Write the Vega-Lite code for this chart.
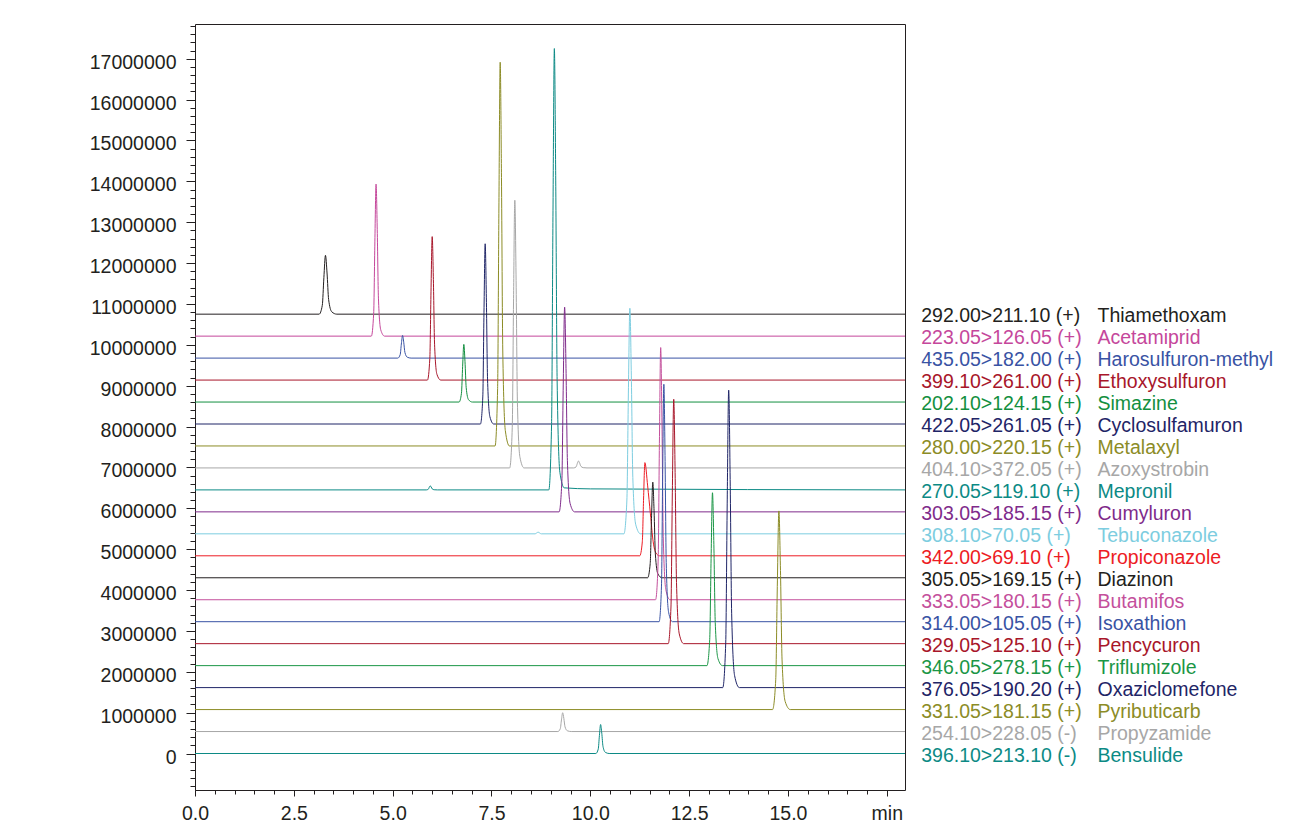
{
"$schema": "https://vega.github.io/schema/vega-lite/v6.json",
"width": 710, "height": 766,
"autosize": "none",
"padding": {"left": 195, "top": 24, "right": 406, "bottom": 42},
"background": "white",
"config": {"view": {"stroke": "#231f20", "strokeWidth": 1}, "font": "Liberation Sans",
  "axis": {"grid": false, "domain": false, "title": null, "tickColor": "#231f20", "labelColor": "#231f20", "labelFontSize": 19.5, "labelFont": "Liberation Sans", "labelOverlap": false, "labelFlush": false, "tickWidth": 1}},
"datasets": {
"tr": [
{"n":"Thiamethoxam","t":0,"y":10750000},{"n":"Thiamethoxam","t":3.14,"y":10750000},{"n":"Thiamethoxam","t":3.22,"y":10966000},{"n":"Thiamethoxam","t":3.26,"y":11642800},{"n":"Thiamethoxam","t":3.30,"y":12190000},{"n":"Thiamethoxam","t":3.34,"y":11758000},{"n":"Thiamethoxam","t":3.38,"y":11110000},{"n":"Thiamethoxam","t":3.46,"y":10807600},{"n":"Thiamethoxam","t":3.588,"y":10750000},{"n":"Thiamethoxam","t":17.96,"y":10750000},
{"n":"Acetamiprid","t":0,"y":10212500},{"n":"Acetamiprid","t":4.46,"y":10212500},{"n":"Acetamiprid","t":4.52,"y":10770500},{"n":"Acetamiprid","t":4.55,"y":12518900},{"n":"Acetamiprid","t":4.58,"y":13932500},{"n":"Acetamiprid","t":4.61,"y":12816500},{"n":"Acetamiprid","t":4.64,"y":11142500},{"n":"Acetamiprid","t":4.70,"y":10361300},{"n":"Acetamiprid","t":4.796,"y":10212500},{"n":"Acetamiprid","t":17.96,"y":10212500},
{"n":"Harosulfuron-methyl","t":0,"y":9675000},{"n":"Harosulfuron-methyl","t":5.13,"y":9675000},{"n":"Harosulfuron-methyl","t":5.19,"y":9758250},{"n":"Harosulfuron-methyl","t":5.22,"y":10019100},{"n":"Harosulfuron-methyl","t":5.25,"y":10230000},{"n":"Harosulfuron-methyl","t":5.28,"y":10063500},{"n":"Harosulfuron-methyl","t":5.31,"y":9813750},{"n":"Harosulfuron-methyl","t":5.37,"y":9697200},{"n":"Harosulfuron-methyl","t":5.466,"y":9675000},{"n":"Harosulfuron-methyl","t":17.96,"y":9675000},
{"n":"Ethoxysulfuron","t":0,"y":9137500},{"n":"Ethoxysulfuron","t":5.88,"y":9137500},{"n":"Ethoxysulfuron","t":5.94,"y":9664000},{"n":"Ethoxysulfuron","t":5.97,"y":11313700},{"n":"Ethoxysulfuron","t":6.00,"y":12647500},{"n":"Ethoxysulfuron","t":6.03,"y":11594500},{"n":"Ethoxysulfuron","t":6.06,"y":10015000},{"n":"Ethoxysulfuron","t":6.12,"y":9277900},{"n":"Ethoxysulfuron","t":6.216,"y":9137500},{"n":"Ethoxysulfuron","t":17.96,"y":9137500},
{"n":"Simazine","t":0,"y":8600000},{"n":"Simazine","t":6.68,"y":8600000},{"n":"Simazine","t":6.74,"y":8811500},{"n":"Simazine","t":6.77,"y":9474200},{"n":"Simazine","t":6.80,"y":10010000},{"n":"Simazine","t":6.83,"y":9587000},{"n":"Simazine","t":6.86,"y":8952500},{"n":"Simazine","t":6.92,"y":8656400},{"n":"Simazine","t":7.016,"y":8600000},{"n":"Simazine","t":17.96,"y":8600000},
{"n":"Cyclosulfamuron","t":0,"y":8062500},{"n":"Cyclosulfamuron","t":7.22,"y":8062500},{"n":"Cyclosulfamuron","t":7.28,"y":8724000},{"n":"Cyclosulfamuron","t":7.31,"y":10796700},{"n":"Cyclosulfamuron","t":7.34,"y":12472500},{"n":"Cyclosulfamuron","t":7.37,"y":11149500},{"n":"Cyclosulfamuron","t":7.40,"y":9165000},{"n":"Cyclosulfamuron","t":7.46,"y":8238900},{"n":"Cyclosulfamuron","t":7.556,"y":8062500},{"n":"Cyclosulfamuron","t":17.96,"y":8062500},
{"n":"Metalaxyl","t":0,"y":7525000},{"n":"Metalaxyl","t":7.59,"y":7525000},{"n":"Metalaxyl","t":7.655,"y":8933500},{"n":"Metalaxyl","t":7.6875,"y":13346800},{"n":"Metalaxyl","t":7.72,"y":16915000},{"n":"Metalaxyl","t":7.7525,"y":14098000},{"n":"Metalaxyl","t":7.785,"y":9872500},{"n":"Metalaxyl","t":7.85,"y":7900600},{"n":"Metalaxyl","t":7.954,"y":7525000},{"n":"Metalaxyl","t":17.96,"y":7525000},
{"n":"Azoxystrobin","t":0,"y":6987500},{"n":"Azoxystrobin","t":7.96,"y":6987500},{"n":"Azoxystrobin","t":8.025,"y":7970000},{"n":"Azoxystrobin","t":8.0575,"y":11048500},{"n":"Azoxystrobin","t":8.09,"y":13537500},{"n":"Azoxystrobin","t":8.1225,"y":11572500},{"n":"Azoxystrobin","t":8.155,"y":8625000},{"n":"Azoxystrobin","t":8.22,"y":7249500},{"n":"Azoxystrobin","t":8.324,"y":6987500},{"n":"Azoxystrobin","t":9.58,"y":6987500},{"n":"Azoxystrobin","t":9.64,"y":7013000},{"n":"Azoxystrobin","t":9.67,"y":7092900},{"n":"Azoxystrobin","t":9.70,"y":7157500},{"n":"Azoxystrobin","t":9.73,"y":7106500},{"n":"Azoxystrobin","t":9.76,"y":7030000},{"n":"Azoxystrobin","t":9.82,"y":6994300},{"n":"Azoxystrobin","t":9.916,"y":6987500},{"n":"Azoxystrobin","t":17.96,"y":6987500},
{"n":"Mepronil","t":0,"y":6450000},{"n":"Mepronil","t":5.85,"y":6450000},{"n":"Mepronil","t":5.90,"y":6465000},{"n":"Mepronil","t":5.925,"y":6512000},{"n":"Mepronil","t":5.95,"y":6550000},{"n":"Mepronil","t":5.975,"y":6520000},{"n":"Mepronil","t":6.00,"y":6475000},{"n":"Mepronil","t":6.05,"y":6454000},{"n":"Mepronil","t":6.13,"y":6450000},{"n":"Mepronil","t":8.95,"y":6450000},{"n":"Mepronil","t":9.02,"y":8070000},{"n":"Mepronil","t":9.055,"y":13146000},{"n":"Mepronil","t":9.09,"y":17250000},{"n":"Mepronil","t":9.125,"y":14010000},{"n":"Mepronil","t":9.16,"y":9150000},{"n":"Mepronil","t":9.23,"y":6882000},{"n":"Mepronil","t":9.342,"y":6500000},{"n":"Mepronil","t":10.0,"y":6475000},{"n":"Mepronil","t":17.96,"y":6450000},
{"n":"Cumyluron","t":0,"y":5912500},{"n":"Cumyluron","t":9.21,"y":5912500},{"n":"Cumyluron","t":9.28,"y":6664000},{"n":"Cumyluron","t":9.315,"y":9018700},{"n":"Cumyluron","t":9.35,"y":10922500},{"n":"Cumyluron","t":9.385,"y":9419500},{"n":"Cumyluron","t":9.42,"y":7165000},{"n":"Cumyluron","t":9.49,"y":6112900},{"n":"Cumyluron","t":9.602,"y":5912500},{"n":"Cumyluron","t":17.96,"y":5912500},
{"n":"Tebuconazole","t":0,"y":5375000},{"n":"Tebuconazole","t":8.60,"y":5375000},{"n":"Tebuconazole","t":8.68,"y":5415000},{"n":"Tebuconazole","t":8.76,"y":5375000},{"n":"Tebuconazole","t":10.85,"y":5375000},{"n":"Tebuconazole","t":10.925,"y":6203000},{"n":"Tebuconazole","t":10.9625,"y":8797400},{"n":"Tebuconazole","t":11.00,"y":10895000},{"n":"Tebuconazole","t":11.0375,"y":9239000},{"n":"Tebuconazole","t":11.075,"y":6755000},{"n":"Tebuconazole","t":11.15,"y":5595800},{"n":"Tebuconazole","t":11.27,"y":5375000},{"n":"Tebuconazole","t":17.96,"y":5375000},
{"n":"Propiconazole","t":0,"y":4837500},{"n":"Propiconazole","t":11.25,"y":4837500},{"n":"Propiconazole","t":11.315,"y":5179500},{"n":"Propiconazole","t":11.3475,"y":6251100},{"n":"Propiconazole","t":11.38,"y":7117500},{"n":"Propiconazole","t":11.45,"y":6547500},{"n":"Propiconazole","t":11.52,"y":5863500},{"n":"Propiconazole","t":11.59,"y":5179500},{"n":"Propiconazole","t":11.66,"y":4905900},{"n":"Propiconazole","t":11.75,"y":4837500},{"n":"Propiconazole","t":17.96,"y":4837500},
{"n":"Diazinon","t":0,"y":4300000},{"n":"Diazinon","t":11.45,"y":4300000},{"n":"Diazinon","t":11.515,"y":4651000},{"n":"Diazinon","t":11.5475,"y":5750800},{"n":"Diazinon","t":11.58,"y":6640000},{"n":"Diazinon","t":11.6125,"y":5938000},{"n":"Diazinon","t":11.645,"y":4885000},{"n":"Diazinon","t":11.71,"y":4393600},{"n":"Diazinon","t":11.814,"y":4300000},{"n":"Diazinon","t":17.96,"y":4300000},
{"n":"Butamifos","t":0,"y":3762500},{"n":"Butamifos","t":11.65,"y":3762500},{"n":"Butamifos","t":11.715,"y":4688000},{"n":"Butamifos","t":11.7475,"y":7587900},{"n":"Butamifos","t":11.78,"y":9932500},{"n":"Butamifos","t":11.8125,"y":8081500},{"n":"Butamifos","t":11.845,"y":5305000},{"n":"Butamifos","t":11.91,"y":4009300},{"n":"Butamifos","t":12.014,"y":3762500},{"n":"Butamifos","t":17.96,"y":3762500},
{"n":"Isoxathion","t":0,"y":3225000},{"n":"Isoxathion","t":11.74,"y":3225000},{"n":"Isoxathion","t":11.80,"y":4096500},{"n":"Isoxathion","t":11.83,"y":6827200},{"n":"Isoxathion","t":11.86,"y":9035000},{"n":"Isoxathion","t":11.89,"y":7292000},{"n":"Isoxathion","t":11.92,"y":4677500},{"n":"Isoxathion","t":11.98,"y":3457400},{"n":"Isoxathion","t":12.076,"y":3225000},{"n":"Isoxathion","t":17.96,"y":3225000},
{"n":"Pencycuron","t":0,"y":2687500},{"n":"Pencycuron","t":11.97,"y":2687500},{"n":"Pencycuron","t":12.04,"y":3584500},{"n":"Pencycuron","t":12.075,"y":6395100},{"n":"Pencycuron","t":12.11,"y":8667500},{"n":"Pencycuron","t":12.145,"y":6873500},{"n":"Pencycuron","t":12.18,"y":4182500},{"n":"Pencycuron","t":12.25,"y":2926700},{"n":"Pencycuron","t":12.362,"y":2687500},{"n":"Pencycuron","t":17.96,"y":2687500},
{"n":"Triflumizole","t":0,"y":2150000},{"n":"Triflumizole","t":12.95,"y":2150000},{"n":"Triflumizole","t":13.02,"y":2784500},{"n":"Triflumizole","t":13.055,"y":4772600},{"n":"Triflumizole","t":13.09,"y":6380000},{"n":"Triflumizole","t":13.125,"y":5111000},{"n":"Triflumizole","t":13.16,"y":3207500},{"n":"Triflumizole","t":13.23,"y":2319200},{"n":"Triflumizole","t":13.342,"y":2150000},{"n":"Triflumizole","t":17.96,"y":2150000},
{"n":"Oxaziclomefone","t":0,"y":1612500},{"n":"Oxaziclomefone","t":13.35,"y":1612500},{"n":"Oxaziclomefone","t":13.425,"y":2704500},{"n":"Oxaziclomefone","t":13.4625,"y":6126100},{"n":"Oxaziclomefone","t":13.50,"y":8892500},{"n":"Oxaziclomefone","t":13.5375,"y":6708500},{"n":"Oxaziclomefone","t":13.575,"y":3432500},{"n":"Oxaziclomefone","t":13.65,"y":1903700},{"n":"Oxaziclomefone","t":13.77,"y":1612500},{"n":"Oxaziclomefone","t":17.96,"y":1612500},
{"n":"Pyributicarb","t":0,"y":1075000},{"n":"Pyributicarb","t":14.61,"y":1075000},{"n":"Pyributicarb","t":14.69,"y":1804000},{"n":"Pyributicarb","t":14.73,"y":4088200},{"n":"Pyributicarb","t":14.77,"y":5935000},{"n":"Pyributicarb","t":14.81,"y":4477000},{"n":"Pyributicarb","t":14.85,"y":2290000},{"n":"Pyributicarb","t":14.93,"y":1269400},{"n":"Pyributicarb","t":15.058,"y":1075000},{"n":"Pyributicarb","t":17.96,"y":1075000},
{"n":"Propyzamide","t":0,"y":537500},{"n":"Propyzamide","t":9.18,"y":537500},{"n":"Propyzamide","t":9.24,"y":606500},{"n":"Propyzamide","t":9.27,"y":822700},{"n":"Propyzamide","t":9.30,"y":997500},{"n":"Propyzamide","t":9.33,"y":859500},{"n":"Propyzamide","t":9.36,"y":652500},{"n":"Propyzamide","t":9.42,"y":555900},{"n":"Propyzamide","t":9.516,"y":537500},{"n":"Propyzamide","t":17.96,"y":537500},
{"n":"Bensulide","t":0,"y":0},{"n":"Bensulide","t":10.14,"y":0},{"n":"Bensulide","t":10.20,"y":106500},{"n":"Bensulide","t":10.23,"y":440200},{"n":"Bensulide","t":10.26,"y":710000},{"n":"Bensulide","t":10.29,"y":497000},{"n":"Bensulide","t":10.32,"y":177500},{"n":"Bensulide","t":10.38,"y":28400},{"n":"Bensulide","t":10.476,"y":0},{"n":"Bensulide","t":17.96,"y":0}
],
"lb": [
{"n":"Thiamethoxam","m":"292.00>211.10 (+)","b":10750000},
{"n":"Acetamiprid","m":"223.05>126.05 (+)","b":10212500},
{"n":"Harosulfuron-methyl","m":"435.05>182.00 (+)","b":9675000},
{"n":"Ethoxysulfuron","m":"399.10>261.00 (+)","b":9137500},
{"n":"Simazine","m":"202.10>124.15 (+)","b":8600000},
{"n":"Cyclosulfamuron","m":"422.05>261.05 (+)","b":8062500},
{"n":"Metalaxyl","m":"280.00>220.15 (+)","b":7525000},
{"n":"Azoxystrobin","m":"404.10>372.05 (+)","b":6987500},
{"n":"Mepronil","m":"270.05>119.10 (+)","b":6450000},
{"n":"Cumyluron","m":"303.05>185.15 (+)","b":5912500},
{"n":"Tebuconazole","m":"308.10>70.05 (+)","b":5375000},
{"n":"Propiconazole","m":"342.00>69.10 (+)","b":4837500},
{"n":"Diazinon","m":"305.05>169.15 (+)","b":4300000},
{"n":"Butamifos","m":"333.05>180.15 (+)","b":3762500},
{"n":"Isoxathion","m":"314.00>105.05 (+)","b":3225000},
{"n":"Pencycuron","m":"329.05>125.10 (+)","b":2687500},
{"n":"Triflumizole","m":"346.05>278.15 (+)","b":2150000},
{"n":"Oxaziclomefone","m":"376.05>190.20 (+)","b":1612500},
{"n":"Pyributicarb","m":"331.05>181.15 (+)","b":1075000},
{"n":"Propyzamide","m":"254.10>228.05 (-)","b":537500},
{"n":"Bensulide","m":"396.10>213.10 (-)","b":0}
]
},
"layer": [
{"data": {"name": "tr"},
 "mark": {"type": "line", "strokeWidth": 1, "interpolate": "monotone"},
 "encoding": {
  "x": {"field": "t", "type": "quantitative", "scale": {"domain": [0, 17.96], "nice": false, "zero": false},
        "axis": {"orient": "bottom", "values": [0, 2.5, 5, 7.5, 10, 12.5, 15, 17.5], "tickSize": 6, "labelPadding": 8, "labelExpr": "datum.value >= 17.5 ? 'min' : format(datum.value, '.1f')"}},
  "y": {"field": "y", "type": "quantitative", "scale": {"domain": [-893000, 17850000], "nice": false, "zero": false},
        "axis": {"orient": "left", "values": [0,1000000,2000000,3000000,4000000,5000000,6000000,7000000,8000000,9000000,10000000,11000000,12000000,13000000,14000000,15000000,16000000,17000000], "format": "d", "tickSize": 9, "labelPadding": 10, "labelOffset": 3.5}},
  "color": {"field": "n", "type": "nominal", "legend": null,
    "scale": {"domain": ["Thiamethoxam","Acetamiprid","Harosulfuron-methyl","Ethoxysulfuron","Simazine","Cyclosulfamuron","Metalaxyl","Azoxystrobin","Mepronil","Cumyluron","Tebuconazole","Propiconazole","Diazinon","Butamifos","Isoxathion","Pencycuron","Triflumizole","Oxaziclomefone","Pyributicarb","Propyzamide","Bensulide"],
              "range": ["#231f20","#c5479b","#3953a4","#a8162a","#138f40","#1f2567","#8c8c26","#a7a7a7","#0c8a85","#7f2b8b","#7dcde0","#ed1c24","#231f20","#c4509c","#3953a4","#a8162a","#1b9646","#1f2567","#8c8c26","#a7a7a7","#0c8a85"]}}
 }},
{"data": {"name": "tr"},
 "mark": {"type": "line", "opacity": 0},
 "encoding": {
  "x": {"field": "t", "type": "quantitative",
        "axis": {"orient": "bottom", "values": [0,0.5,1,1.5,2,2.5,3,3.5,4,4.5,5,5.5,6,6.5,7,7.5,8,8.5,9,9.5,10,10.5,11,11.5,12,12.5,13,13.5,14,14.5,15,15.5,16,16.5,17,17.5], "tickSize": 4, "labels": false}},
  "y": {"field": "y", "type": "quantitative",
        "axis": {"orient": "left", "values": [-800000,-600000,-400000,-200000,0,200000,400000,600000,800000,1000000,1200000,1400000,1600000,1800000,2000000,2200000,2400000,2600000,2800000,3000000,3200000,3400000,3600000,3800000,4000000,4200000,4400000,4600000,4800000,5000000,5200000,5400000,5600000,5800000,6000000,6200000,6400000,6600000,6800000,7000000,7200000,7400000,7600000,7800000,8000000,8200000,8400000,8600000,8800000,9000000,9200000,9400000,9600000,9800000,10000000,10200000,10400000,10600000,10800000,11000000,11200000,11400000,11600000,11800000,12000000,12200000,12400000,12600000,12800000,13000000,13200000,13400000,13600000,13800000,14000000,14200000,14400000,14600000,14800000,15000000,15200000,15400000,15600000,15800000,16000000,16200000,16400000,16600000,16800000,17000000,17200000,17400000,17600000,17800000], "tickSize": 5, "labels": false}},
  "detail": {"field": "n"}
 }},
{"data": {"name": "lb"},
 "mark": {"type": "text", "align": "left", "baseline": "middle", "fontSize": 19.5, "dy": 2},
 "encoding": {
  "x": {"datum": 18.37, "type": "quantitative", "axis": null},
  "y": {"field": "b", "type": "quantitative", "axis": null},
  "text": {"field": "m"},
  "color": {"field": "n", "type": "nominal", "legend": null}
 }},
{"data": {"name": "lb"},
 "mark": {"type": "text", "align": "left", "baseline": "middle", "fontSize": 19.5, "dy": 2},
 "encoding": {
  "x": {"datum": 22.83, "type": "quantitative", "axis": null},
  "y": {"field": "b", "type": "quantitative", "axis": null},
  "text": {"field": "n"},
  "color": {"field": "n", "type": "nominal", "legend": null}
 }}
],
"resolve": {"axis": {"x": "independent", "y": "independent"}}
}
